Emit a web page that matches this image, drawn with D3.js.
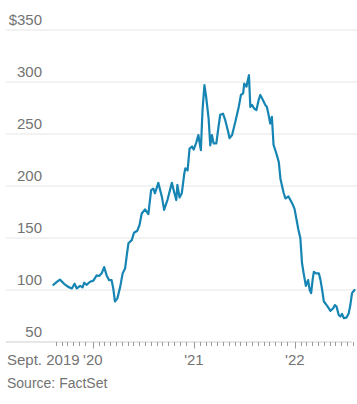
<!DOCTYPE html>
<html>
<head>
<meta charset="utf-8">
<script src="https://cdn.jsdelivr.net/npm/d3@7"></script>
<style>
  html, body { margin: 0; padding: 0; background: #fff; }
  svg { display: block; font-family: "Liberation Sans", Arial, sans-serif; }
</style>
</head>
<body>
<svg id="chart" width="357" height="404"></svg>
<script>
// ---- data ----
const dates = [
"2019-08-11","2019-08-25","2019-09-04","2019-09-19","2019-10-04","2019-10-17","2019-10-27","2019-11-04","2019-11-16","2019-11-25",
"2019-12-01","2019-12-10","2019-12-22","2020-01-03","2020-01-15","2020-01-24","2020-02-02","2020-02-11","2020-02-20","2020-02-29",
"2020-03-09","2020-03-15","2020-03-21","2020-03-30","2020-04-09","2020-04-18","2020-04-27","2020-05-03","2020-05-09","2020-05-21",
"2020-05-29","2020-06-10","2020-06-18","2020-06-26","2020-07-08","2020-07-20","2020-07-30","2020-08-07","2020-08-13","2020-08-25",
"2020-09-07","2020-09-15","2020-09-27","2020-10-13","2020-10-21","2020-10-29","2020-11-02","2020-11-10","2020-11-18","2020-11-27",
"2020-12-01","2020-12-09","2020-12-16","2020-12-25","2020-12-31","2021-01-09","2021-01-17","2021-01-21","2021-01-26","2021-02-01",
"2021-02-08","2021-02-14","2021-02-23","2021-03-01","2021-03-07","2021-03-13","2021-03-23","2021-03-31","2021-04-06","2021-04-16",
"2021-04-24","2021-05-03","2021-05-10","2021-05-19","2021-05-31","2021-06-12","2021-06-20","2021-06-28","2021-07-02","2021-07-10",
"2021-07-14","2021-07-19","2021-07-24","2021-07-30","2021-08-07","2021-08-15","2021-08-23","2021-08-29","2021-09-08","2021-09-16",
"2021-09-22","2021-09-28","2021-10-04","2021-10-10","2021-10-16","2021-10-26","2021-11-04","2021-11-10","2021-11-21","2021-11-28",
"2021-12-09","2021-12-16","2021-12-23","2021-12-31","2022-01-07","2022-01-14","2022-01-21","2022-01-27","2022-02-02","2022-02-10",
"2022-02-18","2022-02-24","2022-03-01","2022-03-07","2022-03-11","2022-03-19","2022-03-29","2022-04-04","2022-04-10","2022-04-16",
"2022-04-22","2022-04-30","2022-05-10","2022-05-20","2022-05-26","2022-06-01","2022-06-09","2022-06-15","2022-06-21","2022-06-27",
"2022-07-07","2022-07-15","2022-07-21","2022-07-27","2022-08-05"
];
const prices = [
105,108,110,106,103,101.5,106,101.5,104,102.5,
107,105,108,109,114,113.5,116,122,114,109.5,
109.5,101.5,89,92,103,116,121,133.5,145,148,
155,157,162.5,173.5,177.5,173,196,197.5,193,203,
189.5,177,186.5,203,194.5,186.5,201,189,193,212,
217,215,236,238,235,241.5,249,242.5,234.5,273,
297,286,265,239,249,241,241,257,268.5,269.5,
263.5,254,246,249,262,276,287.5,289,298.5,295.5,
300.5,306.5,276,278,274.5,273,282.5,287.5,282.5,278,
276,268.5,260,266.5,239.5,231.5,223,207,194,188,
190,186.5,183,178,168,158,150,126,116,104,
109.5,100,97,111,117.5,116,116,109.5,100,89,
87,84,80,82.5,85.5,84,76,74.5,77,73,
73.5,77.5,85.5,97,100
];
const yTickValues = [350, 300, 250, 200, 150, 100, 50];
const yTickLabels = ["$350", "300", "250", "200", "150", "100", "50"];
const xYearTicks = ["2020-01-01", "2021-01-01", "2022-01-01"];
const xYearLabels = ["'20", "'21", "'22"];
const firstLabel = "Sept. 2019";
const sourceText = "Source: FactSet";

// ---- setup ----
const parse = d3.timeParse("%Y-%m-%d");
const data = dates.map((d, i) => ({ date: parse(d), value: prices[i] }));

const svg = d3.select("#chart");
const W = 357;
const gridLeft = 6;
const plotLeft = 53.3, plotRight = 354.5;
const yTop = 30, yBottom = 342;
const textColor = "#737373";

const x = d3.scaleTime()
  .domain(d3.extent(data, d => d.date))
  .range([plotLeft, plotRight]);
const y = d3.scaleLinear().domain([50, 350]).range([yBottom, yTop]);

// gridlines
svg.append("g").selectAll("line")
  .data(yTickValues.filter(v => v !== 50))
  .join("line")
  .attr("x1", gridLeft).attr("x2", W)
  .attr("y1", d => y(d)).attr("y2", d => y(d))
  .attr("stroke", "#e6e6e6").attr("stroke-width", 1);

// baseline
svg.append("line")
  .attr("x1", gridLeft).attr("x2", 352)
  .attr("y1", y(50)).attr("y2", y(50))
  .attr("stroke", "#cfcfcf").attr("stroke-width", 1);

// y labels
svg.append("g").selectAll("text")
  .data(yTickValues)
  .join("text")
  .attr("x", 42)
  .attr("y", d => y(d) - 5)
  .attr("text-anchor", "end")
  .attr("font-size", 15)
  .attr("fill", textColor)
  .text((d, i) => yTickLabels[i]);

// minor ticks: every 21 days from each Jan 1
const [d0, d1] = x.domain();
const minor = [];
for (let yr = d0.getFullYear(); yr <= d1.getFullYear(); yr++) {
  const start = new Date(yr, 0, 1);
  for (let k = 1; k <= 16; k++) {
    const t = d3.timeDay.offset(start, 21 * k);
    if (t >= d0 && t <= d1) minor.push(t);
  }
}
svg.append("g").selectAll("line")
  .data(minor)
  .join("line")
  .attr("x1", d => Math.round(x(d)) + 0.5).attr("x2", d => Math.round(x(d)) + 0.5)
  .attr("y1", y(50)).attr("y2", y(50) + 4)
  .attr("stroke", "#9a9a9a").attr("stroke-width", 1);

const majors = xYearTicks.map(parse);
svg.append("g").selectAll("line")
  .data(majors)
  .join("line")
  .attr("x1", d => Math.round(x(d)) + 0.5).attr("x2", d => Math.round(x(d)) + 0.5)
  .attr("y1", y(50)).attr("y2", y(50) + 6.5)
  .attr("stroke", "#9a9a9a").attr("stroke-width", 1);

// x labels
svg.append("g").selectAll("text")
  .data(majors)
  .join("text")
  .attr("x", d => x(d))
  .attr("y", 365)
  .attr("text-anchor", "middle")
  .attr("font-size", 15)
  .attr("fill", textColor)
  .text((d, i) => xYearLabels[i]);

svg.append("text")
  .attr("x", 7).attr("y", 365)
  .attr("font-size", 15)
  .attr("fill", textColor)
  .text(firstLabel);

svg.append("text")
  .attr("x", 7).attr("y", 388)
  .attr("font-size", 14)
  .attr("fill", textColor)
  .text(sourceText);

// line
const line = d3.line().x(d => x(d.date)).y(d => y(d.value));
svg.append("path")
  .datum(data)
  .attr("d", line)
  .attr("fill", "none")
  .attr("stroke", "#1685b3")
  .attr("stroke-width", 2.2)
  .attr("stroke-linejoin", "round")
  .attr("stroke-linecap", "round");
</script>
</body>
</html>
